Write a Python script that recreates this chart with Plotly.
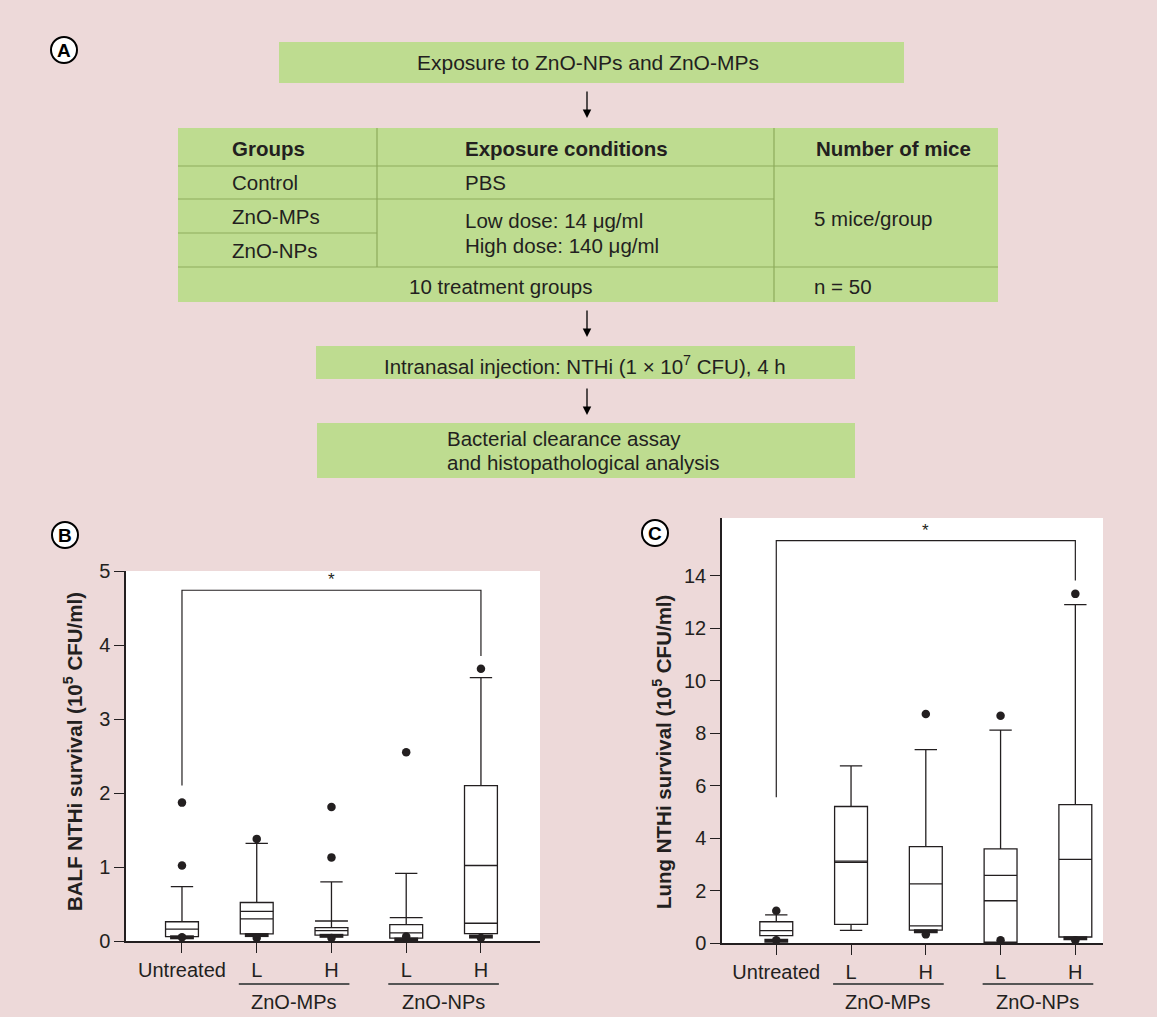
import plotly.graph_objects as go

W, H = 1157, 1017
PINK = "#edd9d9"
GREEN = "#bedc90"
RULE = "#8dab5c"
INK = "#231f20"
FONT = "Liberation Sans, Arial, Helvetica, sans-serif"

# ---------------- data ----------------
categories = ["Untreated", "L", "H", "L", "H"]
group_names = ["ZnO-MPs", "ZnO-NPs"]
group_centers = [1.5, 3.5]

# Panel B: BALF NTHi survival (10^5 CFU/ml)
balf_q1 = [0.06, 0.095, 0.08, 0.04, 0.10]
balf_median = [0.16, 0.30, 0.14, 0.11, 0.24]
balf_q3 = [0.26, 0.52, 0.18, 0.22, 2.10]
balf_lower = [0.05, 0.08, 0.07, 0.02, 0.06]
balf_upper = [0.735, 1.32, 0.80, 0.915, 3.56]
balf_mean = [None, 0.40, 0.27, 0.315, 1.02]
balf_outliers = [[1.87, 1.02, 0.05], [1.38, 0.04], [1.81, 1.13, 0.04], [2.55, 0.06], [3.68, 0.04]]
balf_thick_low = [True, True, True, True, True]
balf_bracket = [2.10, 4.74, 4.74, 3.85]
balf_star = 4.88

# Panel C: Lung NTHi survival (10^5 CFU/ml)
lung_q1 = [0.29, 0.72, 0.50, 0.04, 0.24]
lung_median = [0.48, 3.08, 0.66, 1.62, 3.20]
lung_q3 = [0.82, 5.21, 3.68, 3.60, 5.28]
lung_lower = [0.10, 0.49, 0.46, 0.04, 0.19]
lung_upper = [1.08, 6.76, 7.38, 8.12, 12.90]
lung_mean = [None, 3.13, 2.26, 2.59, None]
lung_outliers = [[1.24, 0.12], [], [8.73, 0.34], [8.67, 0.12], [13.31, 0.12]]
lung_thick_low = [True, False, True, False, True]
lung_bracket = [5.56, 15.34, 15.34, 13.82]
lung_star = 15.72

balf_ticks = [0, 1, 2, 3, 4, 5]
lung_ticks = [0, 2, 4, 6, 8, 10, 12, 14]

# ---------------- helpers ----------------
def px(x):
    return x / W


def py(y):
    return 1 - y / H


fig = go.Figure()
shapes = []
annotations = []


def add_panel(xa, ya, q1, med, q3, lo, up, mean, outl, thick, bracket, star):
    xs = list(range(len(categories)))
    for i in xs:
        fig.add_trace(go.Box(
            x=[i], q1=[q1[i]], median=[med[i]], q3=[q3[i]],
            lowerfence=[lo[i]], upperfence=[up[i]],
            width=0.44, whiskerwidth=0.68, boxpoints=False,
            fillcolor="white", line=dict(color=INK, width=1.3),
            xaxis=xa, yaxis=ya, showlegend=False, hoverinfo="skip"))
    mx = [i for i in xs if mean[i] is not None]
    fig.add_trace(go.Scatter(
        x=mx, y=[mean[i] for i in mx], mode="markers", xaxis=xa, yaxis=ya,
        marker=dict(symbol="line-ew", size=23.5, line=dict(color=INK, width=1.3)),
        showlegend=False, hoverinfo="skip"))
    tx = [i for i in xs if thick[i]]
    fig.add_trace(go.Scatter(
        x=tx, y=[lo[i] for i in tx], mode="markers", xaxis=xa, yaxis=ya,
        marker=dict(symbol="line-ew", size=17, line=dict(color=INK, width=4)),
        showlegend=False, hoverinfo="skip"))
    ox, oy = [], []
    for i in xs:
        for v in outl[i]:
            ox.append(i)
            oy.append(v)
    fig.add_trace(go.Scatter(
        x=ox, y=oy, mode="markers", xaxis=xa, yaxis=ya,
        marker=dict(symbol="circle", size=8.5, color=INK),
        showlegend=False, hoverinfo="skip"))
    fig.add_trace(go.Scatter(
        x=[0, 0, 4, 4], y=bracket, mode="lines", xaxis=xa, yaxis=ya,
        line=dict(color=INK, width=1.2), showlegend=False, hoverinfo="skip"))
    annotations.append(dict(x=2, y=star, xref=xa, yref=ya, text="*",
                            xanchor="center", yanchor="middle",
                            showarrow=False, font=dict(size=17, color=INK)))
    for name, c in zip(group_names, group_centers):
        shapes.append(dict(type="line", xref=xa, yref="paper",
                           x0=c - 0.74, x1=c + 0.74, y0=py(984), y1=py(984),
                           line=dict(color="#555555", width=2)))
        annotations.append(dict(x=c, y=py(1002), xref=xa, yref="paper",
                                text=name, showarrow=False,
                                xanchor="center", yanchor="middle",
                                font=dict(size=20, color=INK)))


add_panel("x", "y", balf_q1, balf_median, balf_q3, balf_lower, balf_upper,
          balf_mean, balf_outliers, balf_thick_low, balf_bracket, balf_star)
add_panel("x2", "y2", lung_q1, lung_median, lung_q3, lung_lower, lung_upper,
          lung_mean, lung_outliers, lung_thick_low, lung_bracket, lung_star)

axis_common = dict(showline=True, linecolor=INK, linewidth=1.5, ticks="outside",
                   ticklen=10, tickwidth=1.2, tickcolor=INK, showgrid=False,
                   zeroline=False, tickfont=dict(size=20, color=INK, family=FONT))

fig.update_layout(
    xaxis=dict(domain=[px(126), px(540)], range=[-0.749, 4.79], anchor="y",
               tickvals=list(range(5)), ticktext=categories, **axis_common),
    yaxis=dict(domain=[py(941), py(571)], range=[0, 5], anchor="x",
               tickvals=balf_ticks, **axis_common),
    xaxis2=dict(domain=[px(722), px(1103)], range=[-0.726, 4.37], anchor="y2",
                tickvals=list(range(5)), ticktext=categories, **axis_common),
    yaxis2=dict(domain=[py(943.3), py(518)], range=[0, 16.2], anchor="x2",
                tickvals=lung_ticks, **axis_common),
)

# y-axis titles
annotations.append(dict(x=px(73), y=py(752), xref="paper", yref="paper",
                        text="<b>BALF NTHi survival (10<sup>5</sup> CFU/ml)</b>",
                        textangle=-90, showarrow=False,
                        xanchor="center", yanchor="middle",
                        font=dict(size=20.5, color=INK)))
annotations.append(dict(x=px(662), y=py(752), xref="paper", yref="paper",
                        text="<b>Lung NTHi survival (10<sup>5</sup> CFU/ml)</b>",
                        textangle=-90, showarrow=False,
                        xanchor="center", yanchor="middle",
                        font=dict(size=20.5, color=INK)))

# ---------------- panel A: flowchart ----------------
def rect(x0, y0, x1, y1, color=GREEN):
    shapes.append(dict(type="rect", xref="paper", yref="paper",
                       x0=px(x0), x1=px(x1), y0=py(y1), y1=py(y0),
                       fillcolor=color, line=dict(width=0), layer="below"))


def hline(x0, x1, y):
    shapes.append(dict(type="line", xref="paper", yref="paper",
                       x0=px(x0), x1=px(x1), y0=py(y), y1=py(y),
                       line=dict(color=RULE, width=1.2)))


def vline(x, y0, y1):
    shapes.append(dict(type="line", xref="paper", yref="paper",
                       x0=px(x), x1=px(x), y0=py(y0), y1=py(y1),
                       line=dict(color=RULE, width=1.2)))


def text(x, y, s, size=20, anchor="center", bold=False):
    if bold:
        s = "<b>" + s + "</b>"
    annotations.append(dict(x=px(x), y=py(y), xref="paper", yref="paper",
                            text=s, showarrow=False, xanchor=anchor,
                            yanchor="middle", font=dict(size=size, color=INK)))


def arrow(x, y_tail, y_tip):
    annotations.append(dict(x=px(x), y=py(y_tip), xref="paper", yref="paper",
                            ax=0, ay=-(y_tip - y_tail), axref="pixel", ayref="pixel",
                            text="", showarrow=True, arrowhead=2, arrowsize=1.3,
                            arrowwidth=1.3, arrowcolor="black"))


rect(279, 42, 904, 83)
text(588, 63, "Exposure to ZnO-NPs and ZnO-MPs", size=21)
arrow(587, 90, 118)

# table
rect(178, 128, 998, 302)
hline(178, 998, 166)
hline(178, 774, 199)
hline(178, 377, 233)
hline(178, 998, 267)
vline(377, 128, 267)
vline(774, 128, 302)
text(230, 148, "Groups", 20.5, "left", True)
text(463, 148, "Exposure conditions", 20.5, "left", True)
text(814, 148, "Number of mice", 20.5, "left", True)
text(230, 182, "Control", 20.5, "left")
text(230, 217, "ZnO-MPs", 20.5, "left")
text(230, 251, "ZnO-NPs", 20.5, "left")
text(463, 183, "PBS", 20.5, "left")
text(463, 220, "Low dose: 14 μg/ml", 20.5, "left")
text(463, 246, "High dose: 140 μg/ml", 20.5, "left")
text(812, 218, "5 mice/group", 20.5, "left")
text(500, 286, "10 treatment groups", 20.5, "center")
text(812, 286, "n = 50", 20.5, "left")
arrow(587, 309, 337)

rect(316, 346, 855, 379)
text(585, 365, "Intranasal injection: NTHi (1 × 10<sup>7</sup> CFU), 4 h", 20.5)
arrow(587, 387, 415)

rect(317, 423, 855, 478)
text(445, 438, "Bacterial clearance assay", 20.5, "left")
text(445, 463, "and histopathological analysis", 20.5, "left")

# panel letters
for letter, cx, cy in [("A", 64, 50), ("B", 65, 535), ("C", 655, 533)]:
    shapes.append(dict(type="circle", xref="paper", yref="paper",
                       x0=px(cx - 13), x1=px(cx + 13), y0=py(cy + 13), y1=py(cy - 13),
                       fillcolor="white", line=dict(color="black", width=2)))
    annotations.append(dict(x=px(cx), y=py(cy + 0.5), xref="paper", yref="paper",
                            text="<b>" + letter + "</b>", showarrow=False,
                            xanchor="center", yanchor="middle",
                            font=dict(size=19, color="black")))

fig.update_layout(
    width=W, height=H, margin=dict(l=0, r=0, t=0, b=0, pad=0, autoexpand=False),
    paper_bgcolor=PINK, plot_bgcolor="white",
    font=dict(family=FONT, color=INK),
    shapes=shapes, annotations=annotations, showlegend=False,
)

fig.write_html("out.html", config={"displayModeBar": False},
               post_script="document.body.style.margin='0';")
